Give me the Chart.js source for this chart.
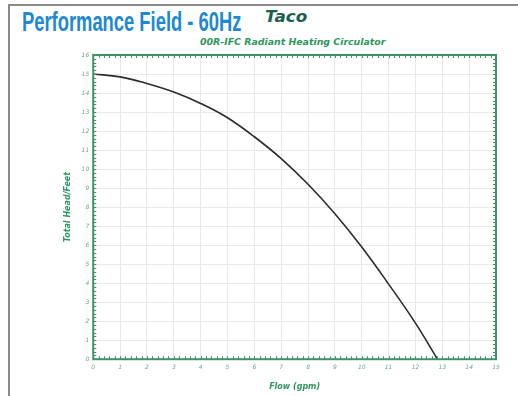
<!DOCTYPE html>
<html>
<head>
<meta charset="utf-8">
<script src="https://cdn.jsdelivr.net/npm/chart.js@4.4.1/dist/chart.umd.min.js"></script>
<style>
  html, body { margin: 0; padding: 0; background: #fff; }
  body { width: 518px; height: 396px; position: relative; overflow: hidden; }
  #frame { position: absolute; left: 8px; top: 4px; width: 520px; height: 400px;
           border-top: 2px solid #8a8a8a; border-left: 2px solid #8a8a8a; box-sizing: border-box; }
  #title { position: absolute; left: 22px; top: 7px; font-family: "Liberation Sans", "DejaVu Sans", sans-serif;
           font-weight: bold; font-size: 27px; color: #1e88d0; white-space: nowrap;
           transform: scaleX(0.68); transform-origin: 0 0; }
  #logo { position: absolute; left: 265px; top: 7px; font-family: "DejaVu Sans", sans-serif; font-weight: bold; font-style: italic;
          font-size: 16px; color: #1d5e52; white-space: nowrap; letter-spacing: 0px;
          transform: scaleX(1.05); transform-origin: 0 0; }
  #subtitle { position: absolute; left: 200px; top: 36px; font-family: "DejaVu Sans", sans-serif; font-weight: bold; font-style: italic;
              font-size: 9.4px; color: #2f9560; white-space: nowrap; }
  #wrap { position: absolute; left: 0; top: 0; width: 518px; height: 396px; }
</style>
</head>
<body>
<div id="frame"></div>
<div id="title">Performance Field - 60Hz</div>
<div id="logo">Taco</div>
<div id="subtitle">00R-IFC Radiant Heating Circulator</div>
<div id="wrap"><canvas id="c"></canvas></div>
<script>
// ---- data ----
const flowGpm  = [0, 1, 2, 3, 4, 5, 6, 7, 8, 9, 10, 11, 12, 12.82];
const headFeet = [15, 14.85, 14.5, 14.05, 13.45, 12.7, 11.7, 10.55, 9.2, 7.65, 5.9, 3.95, 1.9, 0];
const xTickMin = 0, xTickMax = 15, xTickStep = 1;
const yTickMin = 0, yTickMax = 16, yTickStep = 1;
const xTitle = "Flow (gpm)";
const yTitle = "Total Head/Feet";

const green = '#3f9268';
const labelGreen = '#6aa888';
const titleGreen = '#2f9560';

const points = flowGpm.map((x, i) => ({ x: x, y: headFeet[i] }));

const framePlugin = {
  id: 'frame',
  afterDraw(chart) {
    const { ctx, chartArea: a, scales } = chart;
    ctx.save();
    ctx.strokeStyle = green;
    ctx.lineWidth = 2;
    ctx.strokeRect(a.left, a.top, a.right - a.left, a.bottom - a.top);
    ctx.lineWidth = 1;
    for (let v = xTickMin; v <= xTickMax + 1e-9; v += 0.2) {
      const px = Math.round(scales.x.getPixelForValue(v)) + 0.5;
      ctx.beginPath();
      ctx.moveTo(px, a.top); ctx.lineTo(px, a.top + 3);
      ctx.moveTo(px, a.bottom); ctx.lineTo(px, a.bottom - 3);
      ctx.stroke();
    }
    for (let v = yTickMin; v <= yTickMax + 1e-9; v += 0.2) {
      const py = Math.round(scales.y.getPixelForValue(v)) + 0.5;
      ctx.beginPath();
      ctx.moveTo(a.left, py); ctx.lineTo(a.left + 3, py);
      ctx.moveTo(a.right, py); ctx.lineTo(a.right - 3, py);
      ctx.stroke();
    }
    ctx.restore();
  }
};

new Chart(document.getElementById('c'), {
  type: 'line',
  data: {
    datasets: [{
      data: points,
      borderColor: '#2b2b2b',
      borderWidth: 1.6,
      pointRadius: 0,
      tension: 0.4,
      fill: false
    }]
  },
  options: {
    responsive: true,
    maintainAspectRatio: false,
    animation: false,
    events: [],
    layout: { padding: { left: 63, top: 55, right: 22, bottom: 4 } },
    plugins: { legend: { display: false }, tooltip: { enabled: false } },
    scales: {
      x: {
        type: 'linear', min: xTickMin, max: xTickMax,
        ticks: { stepSize: xTickStep, color: labelGreen, padding: 5,
                 font: { family: 'DejaVu Sans', size: 6, style: 'italic' } },
        grid: { color: '#e8e8e8', lineWidth: 1, drawTicks: false },
        border: { display: false },
        title: { display: true, text: xTitle, color: titleGreen, padding: { top: 6, bottom: 0 },
                 font: { family: 'DejaVu Sans', size: 8, weight: 'bold', style: 'italic' } }
      },
      y: {
        type: 'linear', min: yTickMin, max: yTickMax,
        ticks: { stepSize: yTickStep, color: labelGreen, padding: 4,
                 font: { family: 'DejaVu Sans', size: 6, style: 'italic' } },
        grid: { color: '#e8e8e8', lineWidth: 1, drawTicks: false },
        border: { display: false },
        title: { display: true, text: yTitle, color: titleGreen, padding: { top: 0, bottom: 5 },
                 font: { family: 'DejaVu Sans', size: 8, weight: 'bold', style: 'italic' } }
      }
    }
  },
  plugins: [framePlugin]
});
</script>
</body>
</html>
